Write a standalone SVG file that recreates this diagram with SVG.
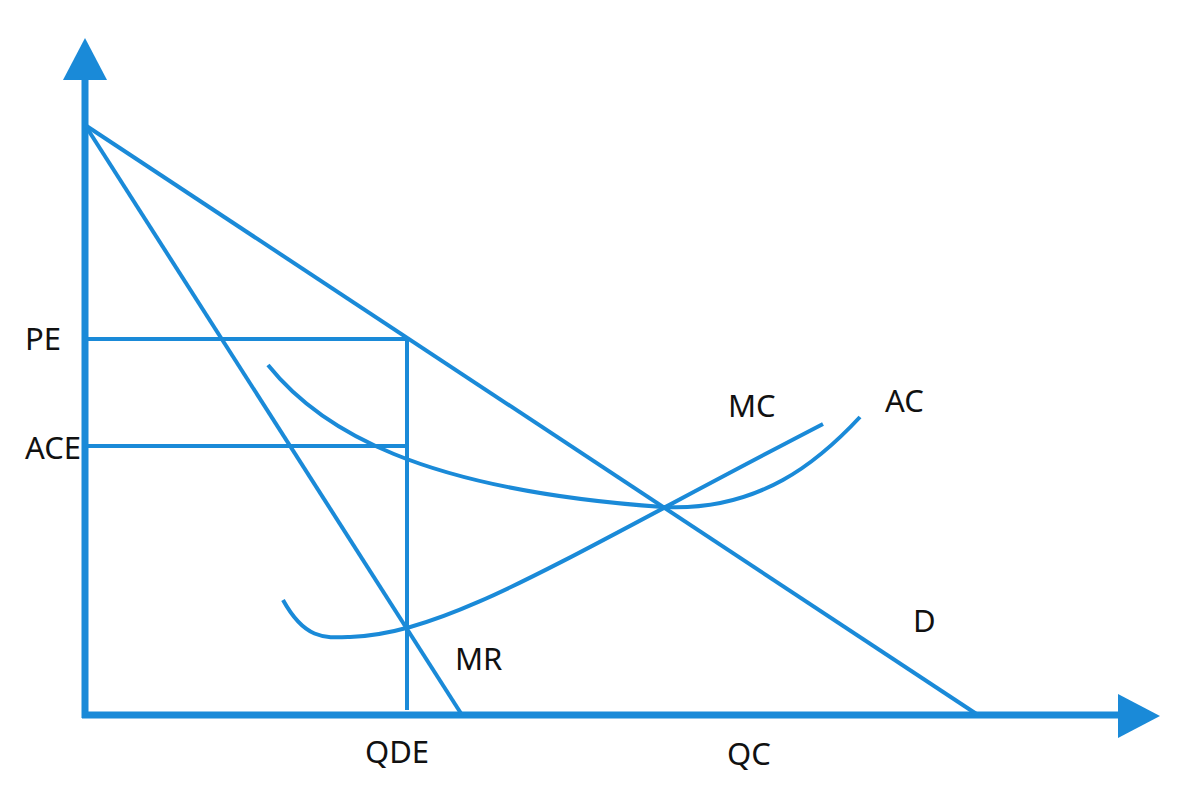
<svg xmlns="http://www.w3.org/2000/svg" width="1200" height="800" viewBox="0 0 1200 800">
<style>
.ax{stroke:#1a8ad8;stroke-width:7;fill:none}
.ln{stroke:#1a8ad8;stroke-width:4;fill:none;stroke-linecap:butt}
.hd{fill:#1a8ad8}
text{font-family:"Noto Sans","Liberation Sans",sans-serif;font-size:31px;fill:#111}
</style>
<rect width="1200" height="800" fill="#fff"/>
<g id="axes">
<line class="ax" x1="85" y1="718" x2="85" y2="78"/>
<polygon class="hd" points="85,38 63,80 107,80"/>
<line class="ax" x1="82" y1="715" x2="1120" y2="715"/>
<polygon class="hd" points="1160,716 1118,694 1118,738"/>
</g>
<g id="connectors">
<line class="ln" x1="85" y1="125" x2="978" y2="715"/>
<line class="ln" x1="85" y1="125" x2="462" y2="715"/>
<line class="ln" x1="87" y1="339" x2="409" y2="339"/>
<line class="ln" x1="87" y1="446" x2="407" y2="446"/>
<line class="ln" x1="407" y1="339" x2="407" y2="710"/>
<path id="ac" class="ln" d="M268,365 C320,430 420,490 663,507 C760,512 820,460 860,417"/>
<path id="mc" class="ln" d="M283,600 C305,640 325,638 350,637 C450,633 560,560 823,424"/>
</g>
<g id="labels">
<text x="25" y="350">PE</text>
<text x="25" y="459">ACE</text>
<text x="728" y="417">MC</text>
<text x="885" y="412">AC</text>
<text x="913" y="632">D</text>
<text x="455" y="670">MR</text>
<text x="365" y="763">QDE</text>
<text x="727" y="765">QC</text>
</g>
</svg>
